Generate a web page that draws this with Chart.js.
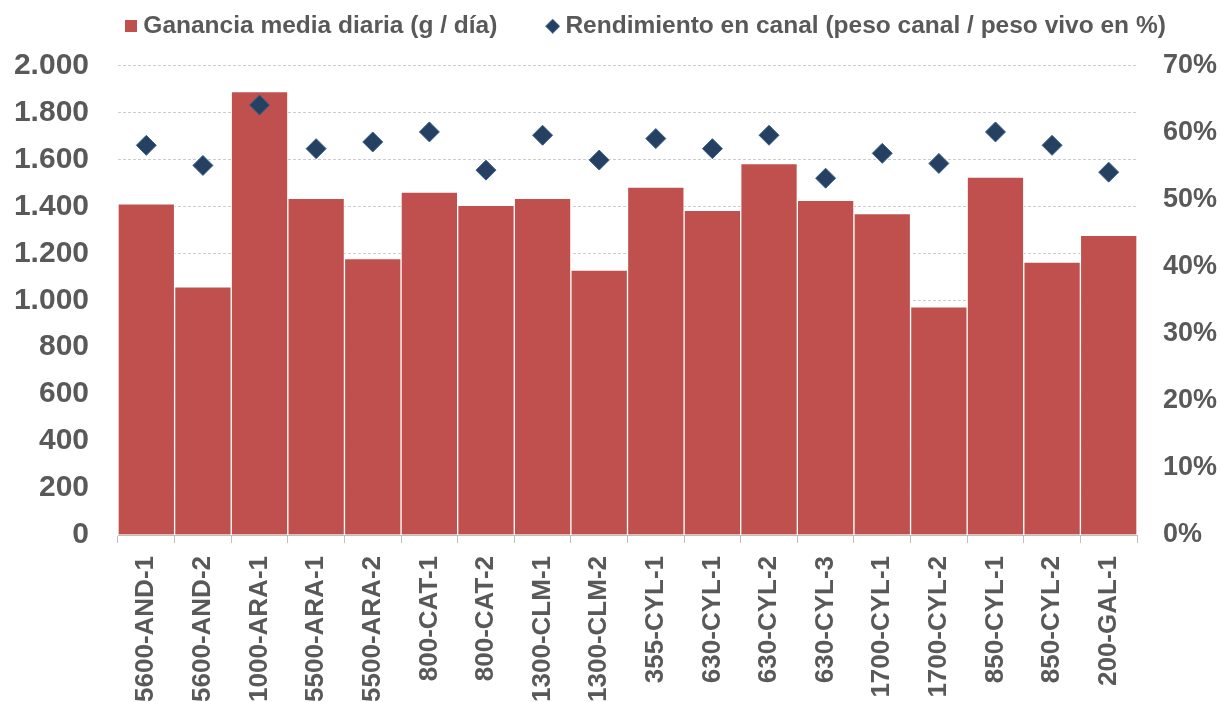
<!DOCTYPE html>
<html>
<head>
<meta charset="utf-8">
<script src="https://cdn.jsdelivr.net/npm/chart.js@4.4.1/dist/chart.umd.min.js"></script>
<style>
  html, body { margin: 0; padding: 0; background: #ffffff; }
  #c { display: block; }
</style>
</head>
<body>
<canvas id="c" width="1221" height="702"></canvas>
<script>
// ---- data ----
const categories = ['5600-AND-1','5600-AND-2','1000-ARA-1','5500-ARA-1','5500-ARA-2','800-CAT-1','800-CAT-2','1300-CLM-1','1300-CLM-2','355-CYL-1','630-CYL-1','630-CYL-2','630-CYL-3','1700-CYL-1','1700-CYL-2','850-CYL-1','850-CYL-2','200-GAL-1'];
const gananciaMediaDiaria = [1411, 1057, 1889, 1434, 1177, 1461, 1404, 1434, 1128, 1482, 1383, 1582, 1426, 1369, 972, 1525, 1163, 1277];
const rendimientoCanal = [58.1, 55.1, 64.1, 57.6, 58.6, 60.1, 54.4, 59.6, 55.9, 59.1, 57.6, 59.6, 53.2, 56.9, 55.4, 60.1, 58.1, 54.1];
const seriesNames = ['Ganancia media diaria (g / día)', 'Rendimiento en canal (peso canal / peso vivo en %)'];
const leftTickLabels = ['0','200','400','600','800','1.000','1.200','1.400','1.600','1.800','2.000'];
const rightTickLabels = ['0%','10%','20%','30%','40%','50%','60%','70%'];

// ---- styles ----
const BAR = '#C0504D';
const DIAMOND = '#254061';
const DIAMOND_EDGE = '#3B5E8C';
const TEXT = '#595959';
const FONT = "'Liberation Sans', Arial, sans-serif";

function makeSquare() {
  const c = document.createElement('canvas'); c.width = 12; c.height = 12;
  const g = c.getContext('2d'); g.fillStyle = BAR; g.fillRect(0, 0, 12, 12);
  return c;
}
function makeDiamond() {
  const c = document.createElement('canvas'); c.width = 15; c.height = 15;
  const g = c.getContext('2d');
  g.beginPath(); g.moveTo(7.5, 0.5); g.lineTo(14.5, 7.5); g.lineTo(7.5, 14.5); g.lineTo(0.5, 7.5); g.closePath();
  g.fillStyle = DIAMOND; g.fill(); g.strokeStyle = DIAMOND_EDGE; g.lineWidth = 1; g.stroke();
  return c;
}
function makeBlank() {
  const c = document.createElement('canvas'); c.width = 1; c.height = 1;
  return c;
}
const legendSquare = makeSquare();
const legendDiamond = makeDiamond();
const legendBlank = makeBlank();

new Chart(document.getElementById('c'), {
  data: {
    labels: categories,
    datasets: [
      {
        type: 'bar',
        label: seriesNames[0],
        data: gananciaMediaDiaria,
        yAxisID: 'y',
        backgroundColor: BAR,
        borderColor: '#ffffff',
        borderWidth: 1,
        barPercentage: 1,
        categoryPercentage: 1,
        order: 1
      },
      {
        type: 'line',
        label: seriesNames[1],
        data: rendimientoCanal,
        yAxisID: 'y1',
        showLine: false,
        pointStyle: 'rectRot',
        pointRadius: 10,
        pointHoverRadius: 10,
        pointBackgroundColor: DIAMOND,
        pointBorderColor: DIAMOND_EDGE,
        pointBorderWidth: 1,
        order: 0
      }
    ]
  },
  options: {
    responsive: false,
    devicePixelRatio: 1,
    animation: false,
    layout: { padding: 0 },
    plugins: {
      tooltip: { enabled: false },
      title: {
        display: true,
        text: '',
        position: 'top',
        weight: 500,
        font: { size: 1, lineHeight: 1 },
        padding: { top: 16, bottom: 0 }
      },
      legend: {
        position: 'top',
        align: 'center',
        labels: {
          usePointStyle: true,
          boxWidth: 1,
          padding: 14,
          color: TEXT,
          font: { family: FONT, size: 24.5, weight: 'bold' },
          generateLabels: () => [
            { text: '       ', pointStyle: legendBlank, fillStyle: 'rgba(0,0,0,0)', strokeStyle: 'rgba(0,0,0,0)', lineWidth: 0, hidden: false, fontColor: 'rgba(0,0,0,0)' },
            { text: seriesNames[0] + '      ', pointStyle: legendSquare, fillStyle: BAR, strokeStyle: BAR, lineWidth: 0, hidden: false, datasetIndex: 0, fontColor: TEXT },
            { text: seriesNames[1], pointStyle: legendDiamond, fillStyle: DIAMOND, strokeStyle: DIAMOND_EDGE, lineWidth: 0, hidden: false, datasetIndex: 1, fontColor: TEXT }
          ]
        }
      }
    },
    scales: {
      x: {
        type: 'category',
        offset: true,
        grid: { display: true, offset: true, drawOnChartArea: false, drawTicks: true, tickLength: 8, color: '#bfbfbf', lineWidth: 1 },
        border: { display: true, color: '#bfbfbf', width: 1 },
        ticks: {
          minRotation: 90, maxRotation: 90, autoSkip: false, padding: 13,
          color: TEXT, font: { family: FONT, size: 26, weight: 'bold' }
        },
        afterFit: s => { s.height = 167; }
      },
      y: {
        type: 'linear',
        position: 'left',
        min: 0, max: 2000,
        ticks: {
          stepSize: 200, padding: 29, color: TEXT,
          font: { family: FONT, size: 30, weight: 'bold' },
          callback: (v, i) => leftTickLabels[i]
        },
        grid: { color: '#cccccc', lineWidth: 1, drawTicks: false },
        border: { display: false, dash: [3, 2] },
        afterFit: s => { s.width = 118; }
      },
      y1: {
        type: 'linear',
        position: 'right',
        min: 0, max: 70,
        ticks: {
          stepSize: 10, padding: 26, color: TEXT,
          font: { family: FONT, size: 27, weight: 'bold' },
          callback: (v, i) => rightTickLabels[i]
        },
        grid: { display: false, drawTicks: false },
        border: { display: false },
        afterFit: s => { s.width = 84; }
      }
    }
  }
});
</script>
</body>
</html>
